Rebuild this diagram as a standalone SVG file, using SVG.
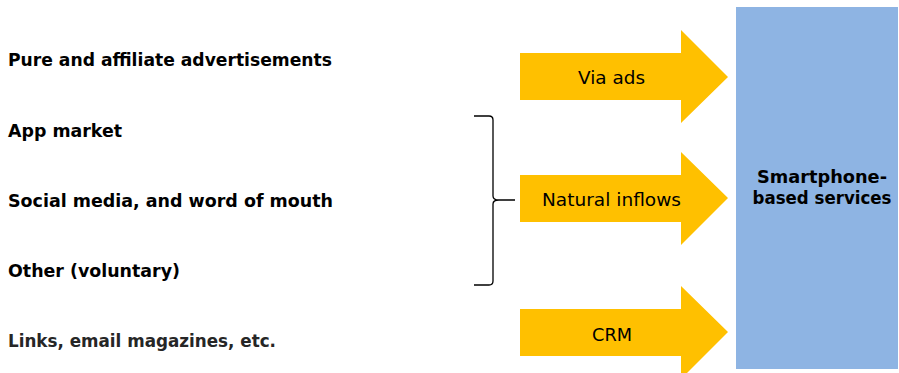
<svg xmlns="http://www.w3.org/2000/svg" width="899" height="373" viewBox="0 0 899 373">
<style>
.src{font-family:"DejaVu Sans","Liberation Sans",sans-serif;font-weight:bold;font-size:17.5px;fill:#000}
.lbl{font-family:"DejaVu Sans","Liberation Sans",sans-serif;font-size:18.5px;fill:#000}
.arrow{fill:#FFC000}
</style>
<rect width="899" height="373" fill="#fff"/>
<g id="node-sources">
<text class="src" x="8" y="66" textLength="324" lengthAdjust="spacingAndGlyphs">Pure and affiliate advertisements</text>
<text class="src" x="8" y="137" textLength="114" lengthAdjust="spacingAndGlyphs">App market</text>
<text class="src" x="8" y="207" textLength="325" lengthAdjust="spacingAndGlyphs">Social media, and word of mouth</text>
<text class="src" x="8" y="277" textLength="172" lengthAdjust="spacingAndGlyphs">Other (voluntary)</text>
<text class="src" x="8" y="347" textLength="268" lengthAdjust="spacingAndGlyphs" style="fill:#262626">Links, email magazines, etc.</text>
</g>
<g id="node-services">
<rect x="736" y="7" width="162" height="362" fill="#8EB4E3"/>
<text class="src" x="822" y="183" text-anchor="middle" textLength="130" lengthAdjust="spacingAndGlyphs">Smartphone-</text>
<text class="src" x="822" y="204" text-anchor="middle" textLength="139" lengthAdjust="spacingAndGlyphs">based services</text>
</g>
<g id="connectors">
<g id="arrow-ads">
<polygon class="arrow" points="520,53 681,53 681,30 728,77 681,123 681,100 520,100"/>
<text class="lbl" x="611.5" y="84" text-anchor="middle" textLength="67" lengthAdjust="spacingAndGlyphs">Via ads</text>
</g>
<g id="arrow-natural">
<polygon class="arrow" points="520,175 681,175 681,152 728,198 681,245 681,222 520,222"/>
<text class="lbl" x="611.5" y="205.5" text-anchor="middle" textLength="139" lengthAdjust="spacingAndGlyphs">Natural  inflows</text>
</g>
<g id="arrow-crm">
<polygon class="arrow" points="520,309 681,309 681,286 728,332 681,379 681,356 520,356"/>
<text class="lbl" x="612" y="340.5" text-anchor="middle" textLength="40" lengthAdjust="spacingAndGlyphs">CRM</text>
</g>
<path id="brace" d="M474,116 L489,116 Q493,116 493,120 L493,196 Q493,200 499,200 L515,200 M499,200 Q493,200 493,204 L493,281 Q493,285 489,285 L474,285" fill="none" stroke="#000" stroke-width="1.3"/>
</g>
</svg>
